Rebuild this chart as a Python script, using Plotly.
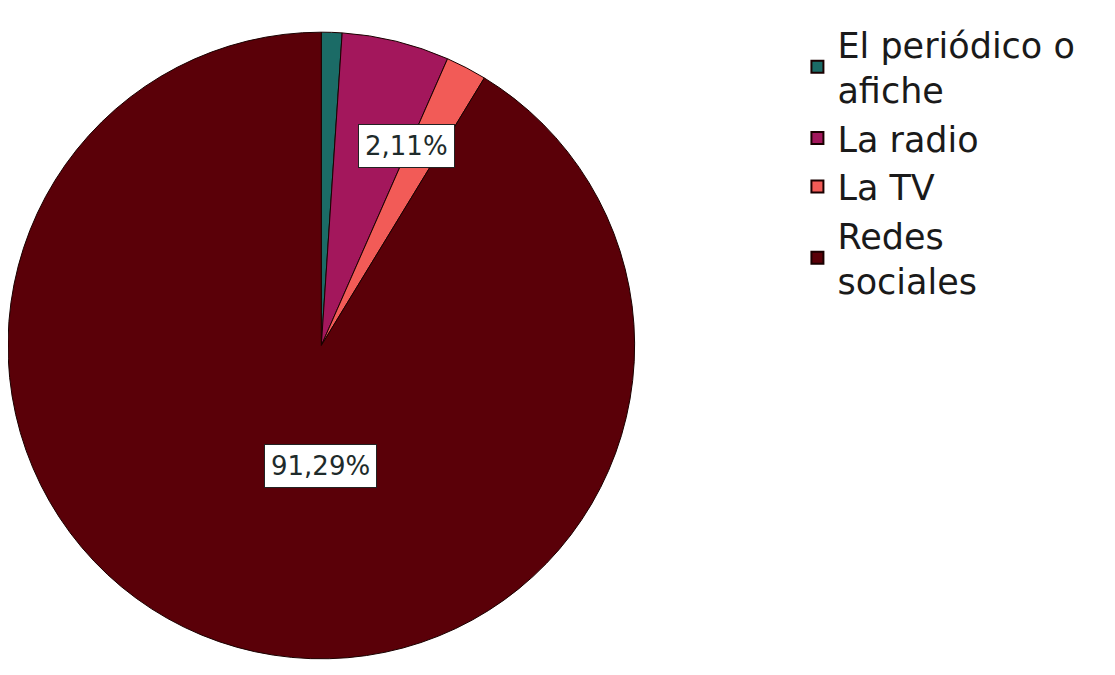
import plotly.graph_objects as go

categories = ["El periódico o<br>afiche", "La radio", "La TV", "Redes<br>sociales"]
percentages = [1.06, 5.54, 2.11, 91.29]
colors = ["#1b6b66", "#a3175c", "#f25b57", "#5a0008"]
shown_labels = ["", "", "2,11%", "91,29%"]

fig = go.Figure()
fig.add_trace(go.Pie(
    labels=categories,
    values=percentages,
    sort=False,
    direction="clockwise",
    rotation=0,
    marker=dict(colors=colors, line=dict(color="#1a0000", width=1)),
    textinfo="none",
    hoverinfo="label+percent",
    domain=dict(x=[0.0, 0.562], y=[0.03, 0.97]),
    showlegend=True,
))

# value labels with white boxes (SPSS style)
label_pos = {2: (0.357, 0.795), 3: (0.280, 0.322)}
for i, (x, y) in label_pos.items():
    fig.add_annotation(
        x=x, y=y, xref="paper", yref="paper",
        xanchor="center", yanchor="middle",
        text=shown_labels[i], showarrow=False,
        font=dict(family="DejaVu Sans", size=26, color="#1e2b2b"),
        bgcolor="white", bordercolor="#222222", borderwidth=1, borderpad=6,
    )

fig.update_layout(
    width=1115, height=675,
    margin=dict(l=0, r=0, t=0, b=0),
    paper_bgcolor="white",
    plot_bgcolor="white",
    legend=dict(
        x=0.708, y=0.99, xanchor="left", yanchor="top",
        font=dict(family="DejaVu Sans", size=35, color="#1a1a1a"),
        tracegroupgap=0, itemsizing="constant",
        bgcolor="rgba(0,0,0,0)",
    ),
)

fig.write_html("out.html")
